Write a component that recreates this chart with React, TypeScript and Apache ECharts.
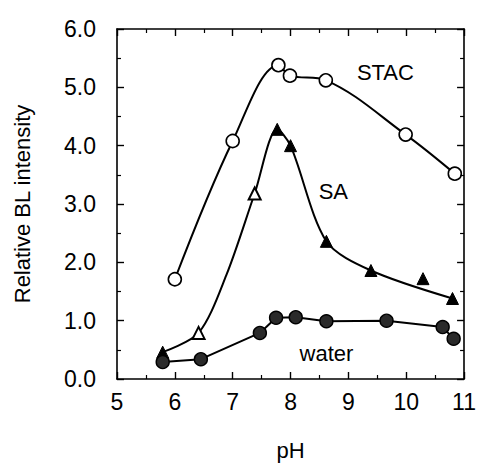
import React, { useEffect, useRef } from "react";
import * as echarts from "echarts";

// STAC (open circles)
const stacPh = [6.0, 7.0, 7.79, 7.99, 8.61, 9.99, 10.84];
const stacVal = [1.71, 4.08, 5.38, 5.2, 5.12, 4.19, 3.52];

// SA (triangles)
const saPh = [5.79, 6.41, 7.38, 7.77, 8.0, 8.62, 9.39, 10.29, 10.8];
const saVal = [0.46, 0.79, 3.18, 4.28, 4.0, 2.36, 1.86, 1.72, 1.38];
const saOpen = [false, true, true, false, false, false, false, false, false];
// SA fitted curve nodes (the hand-drawn curve does not pass through every point)
const saFitPh = [5.79, 6.41, 6.89, 7.38, 7.77, 8.0, 8.62, 9.39, 10.8];
const saFitVal = [0.46, 0.79, 1.78, 3.18, 4.28, 4.0, 2.36, 1.86, 1.38];

// water (dark circles)
const waterPh = [5.79, 6.45, 7.47, 7.75, 8.09, 8.62, 9.66, 10.63, 10.82];
const waterVal = [0.29, 0.34, 0.79, 1.05, 1.06, 0.99, 1.0, 0.89, 0.69];

// in-plot labels
const labelText = ["STAC", "SA", "water"];
const labelPh = [9.64, 8.74, 8.62];
const labelVal = [5.26, 3.21, 0.44];

const xTicks = [5, 6, 7, 8, 9, 10, 11];
const yTicks = ["0.0", "1.0", "2.0", "3.0", "4.0", "5.0", "6.0"];

const FONT = "'Liberation Sans', Arial, Helvetica, sans-serif";

export default function App() {
  const ref = useRef<HTMLDivElement>(null);
  useEffect(() => {
    if (!ref.current) return;
    const chart = echarts.init(ref.current, undefined, { renderer: "svg" });
    const zip = (xs: number[], ys: number[]) => xs.map((x, i) => [x, ys[i]]);
    const axisCommon = {
      axisLine: { show: true, onZero: false, lineStyle: { color: "#000", width: 1.6 } },
      axisTick: { show: true, inside: true, length: 7, lineStyle: { color: "#000", width: 1.4 } },
      minorTick: { show: true, splitNumber: 2, length: 4, lineStyle: { color: "#000", width: 1.2 } },
      splitLine: { show: false },
    };
    chart.setOption({
      animation: false,
      backgroundColor: "#fff",
      textStyle: { fontFamily: FONT },
      grid: { left: 117, right: 10, top: 29, bottom: 85 },
      xAxis: [
        {
          type: "value",
          min: xTicks[0],
          max: xTicks[xTicks.length - 1],
          interval: 1,
          position: "bottom",
          ...axisCommon,
          axisLabel: { color: "#000", fontSize: 23, margin: 11, fontFamily: FONT },
          name: "pH",
          nameLocation: "middle",
          nameGap: 60,
          nameTextStyle: { color: "#000", fontSize: 22, fontFamily: FONT },
        },
        {
          type: "value",
          min: xTicks[0],
          max: xTicks[xTicks.length - 1],
          interval: 1,
          position: "top",
          ...axisCommon,
          axisLabel: { show: false },
        },
      ],
      yAxis: [
        {
          type: "value",
          min: 0,
          max: 6,
          interval: 1,
          position: "left",
          ...axisCommon,
          axisLabel: {
            color: "#000",
            fontSize: 23,
            margin: 21,
            fontFamily: FONT,
            formatter: (v: number) => yTicks[Math.round(v)] ?? v.toFixed(1),
          },
          name: "Relative BL intensity",
          nameLocation: "middle",
          nameGap: 84,
          nameTextStyle: { color: "#000", fontSize: 22, fontFamily: FONT },
        },
        {
          type: "value",
          min: 0,
          max: 6,
          interval: 1,
          position: "right",
          ...axisCommon,
          axisLabel: { show: false },
        },
      ],
      series: [
        {
          type: "line",
          data: zip(stacPh, stacVal),
          smooth: 0.35,
          showSymbol: false,
          lineStyle: { color: "#000", width: 2 },
          z: 2,
        },
        {
          type: "line",
          data: zip(saFitPh, saFitVal),
          smooth: 0.3,
          showSymbol: false,
          lineStyle: { color: "#000", width: 2 },
          z: 2,
        },
        {
          type: "line",
          data: zip(waterPh, waterVal),
          smooth: false,
          showSymbol: false,
          lineStyle: { color: "#000", width: 2 },
          z: 2,
        },
        {
          type: "scatter",
          data: zip(stacPh, stacVal),
          symbol: "circle",
          symbolSize: 13,
          itemStyle: { color: "#fff", borderColor: "#000", borderWidth: 1.6, opacity: 1 },
          z: 5,
        },
        {
          type: "scatter",
          data: saPh.map((x, i) => ({
            value: [x, saVal[i]],
            itemStyle: saOpen[i]
              ? { color: "#fff", borderColor: "#000", borderWidth: 2, opacity: 1 }
              : { color: "#000", borderColor: "#000", borderWidth: 1, opacity: 1 },
          })),
          symbol: "triangle",
          symbolSize: 12,
          itemStyle: { opacity: 1 },
          z: 5,
        },
        {
          type: "scatter",
          data: zip(waterPh, waterVal),
          symbol: "circle",
          symbolSize: 13,
          itemStyle: { color: "#2a2a2a", borderColor: "#000", borderWidth: 1.4, opacity: 1 },
          z: 5,
        },
        {
          type: "scatter",
          data: labelPh.map((x, i) => ({ value: [x, labelVal[i]], name: labelText[i] })),
          symbolSize: 0,
          silent: true,
          itemStyle: { opacity: 1 },
          label: {
            show: true,
            position: "inside",
            formatter: (p: any) => p.name,
            color: "#000",
            opacity: 1,
            fontSize: 22,
            fontFamily: FONT,
          },
          z: 6,
        },
      ],
    });
    return () => chart.dispose();
  }, []);
  return (
    <div
      ref={ref}
      style={{ position: "fixed", left: 0, top: 0, width: 479, height: 466, background: "#fff" }}
    />
  );
}
